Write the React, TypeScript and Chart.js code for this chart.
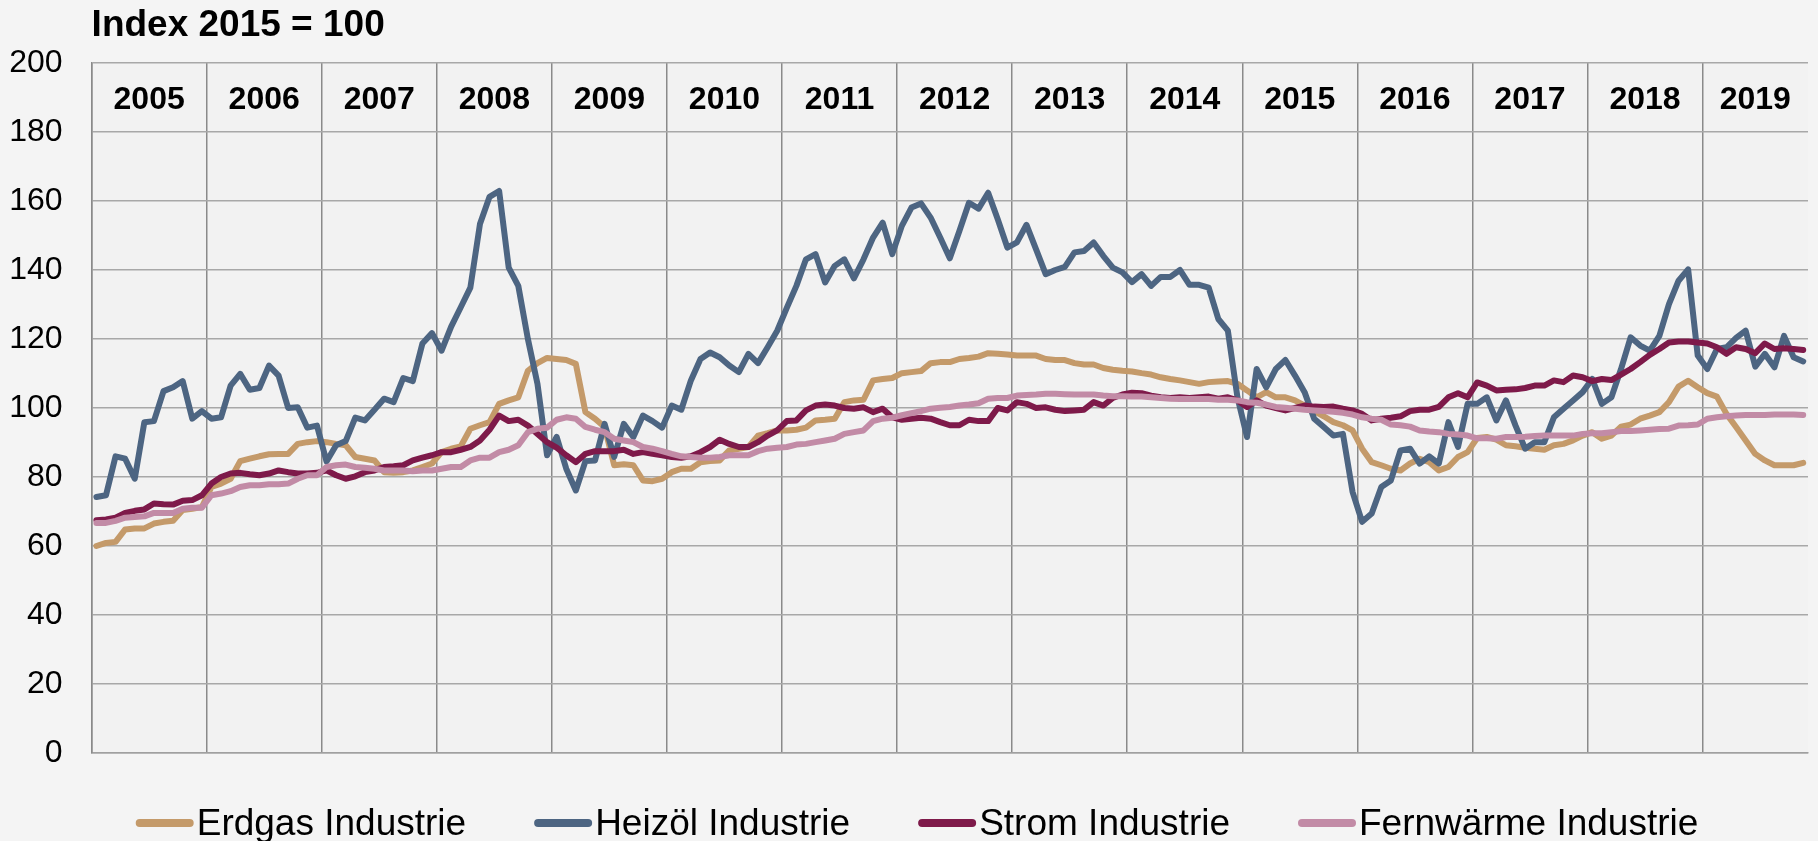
import React, { useEffect, useRef } from 'react';
import { Chart, registerables } from 'chart.js';

Chart.register(...registerables);

const FONT = '"Liberation Sans", Arial, Helvetica, sans-serif';

const titleText = 'Index 2015 = 100';
const years = ['2005', '2006', '2007', '2008', '2009', '2010', '2011', '2012', '2013', '2014', '2015', '2016', '2017', '2018', '2019'];
const monthsInLastYear = 11;
const yMin = 0;
const yMax = 200;
const yStep = 20;

const erdgas = [
  60.0, 60.9, 61.2, 64.8, 65.1, 65.1, 66.5, 67.0, 67.3, 70.4, 70.8, 71.3,
  77.1, 78.1, 79.5, 84.6, 85.3, 86.0, 86.6, 86.7, 86.7, 89.6, 90.1, 90.4,
  90.1, 89.6, 89.2, 85.8, 85.3, 84.8, 81.4, 81.2, 81.4, 81.9, 82.9, 83.9,
  87.2, 88.2, 88.9, 94.0, 95.0, 95.9, 101.2, 102.2, 103.1, 110.8, 113.0, 114.5,
  114.2, 113.9, 112.8, 98.8, 96.9, 94.5, 83.4, 83.7, 83.4, 79.0, 78.8, 79.5,
  81.4, 82.4, 82.4, 84.3, 84.6, 84.8, 87.7, 88.2, 88.7, 92.0, 92.7, 93.5,
  93.5, 93.7, 94.3, 96.4, 96.6, 96.9, 101.7, 102.2, 102.4, 108.0, 108.4, 108.7,
  110.1, 110.4, 110.7, 113.0, 113.3, 113.3, 114.2, 114.5, 114.9, 115.9, 115.7, 115.5,
  115.2, 115.2, 115.2, 114.2, 113.9, 113.9, 113.0, 112.6, 112.6, 111.6, 111.1, 110.8,
  110.6, 110.1, 109.7, 108.9, 108.4, 108.0, 107.5, 107.0, 107.5, 107.7, 107.8, 107.0,
  105.1, 103.1, 104.6, 103.1, 103.1, 102.2, 100.7, 99.1, 97.6, 95.9, 95.0, 93.5,
  88.2, 84.3, 83.4, 82.4, 81.9, 83.9, 85.3, 84.3, 81.9, 82.9, 85.8, 87.2,
  91.3, 91.6, 90.8, 89.2, 88.9, 88.5, 88.2, 87.9, 89.2, 89.6, 90.6, 92.0,
  93.0, 91.1, 92.0, 94.6, 95.2, 96.9, 97.8, 98.8, 101.7, 106.2, 107.9, 106.0,
  104.3, 103.3, 98.3, 94.5, 90.6, 86.7, 84.8, 83.4, 83.4, 83.4, 84.1,
];

const heizoel = [
  74.2, 74.7, 86.0, 85.3, 79.5, 95.9, 96.2, 104.9, 106.0, 107.8, 96.9, 99.1,
  96.9, 97.3, 106.5, 109.9, 105.3, 105.8, 112.3, 109.4, 100.0, 100.2, 94.3, 94.9,
  84.5, 89.2, 90.4, 97.2, 96.4, 99.5, 102.7, 101.7, 108.7, 107.8, 118.7, 121.7,
  116.6, 123.6, 129.2, 134.9, 153.3, 161.2, 162.9, 140.7, 135.4, 120.0, 107.0, 86.3,
  91.6, 82.4, 76.1, 84.6, 84.8, 95.4, 85.8, 95.4, 91.6, 97.8, 96.2, 94.3,
  100.7, 99.5, 108.0, 114.2, 116.1, 114.7, 112.3, 110.4, 115.7, 113.0, 117.6, 122.4,
  129.0, 135.4, 143.1, 144.6, 136.4, 141.2, 143.1, 137.6, 143.1, 149.4, 153.7, 144.6,
  152.8, 158.1, 159.3, 155.2, 149.4, 143.4, 151.3, 159.5, 157.8, 162.4, 154.7, 146.5,
  148.0, 153.1, 146.0, 138.8, 140.0, 140.9, 145.1, 145.5, 148.0, 144.1, 140.7, 139.3,
  136.5, 138.8, 135.4, 138.0, 138.0, 140.0, 135.7, 135.7, 134.9, 125.8, 122.4, 103.1,
  91.6, 111.3, 106.0, 111.3, 113.9, 109.4, 104.6, 96.9, 94.5, 92.0, 92.5, 75.7,
  67.0, 69.4, 77.1, 79.0, 87.7, 88.2, 83.9, 86.0, 83.9, 95.9, 88.7, 101.2,
  101.2, 103.1, 96.4, 102.2, 94.9, 88.2, 90.1, 90.1, 97.3, 99.8, 102.2, 104.6,
  108.4, 101.2, 103.1, 111.3, 120.5, 118.1, 116.6, 120.9, 130.1, 136.9, 140.2, 115.2,
  111.3, 117.1, 117.6, 120.3, 122.4, 112.0, 115.7, 111.8, 120.9, 114.7, 113.5,
];

const strom = [
  67.5, 67.7, 68.2, 69.6, 70.2, 70.6, 72.3, 72.1, 72.0, 73.1, 73.3, 74.7,
  78.1, 80.0, 81.0, 81.2, 80.8, 80.5, 81.0, 81.9, 81.4, 81.0, 81.0, 81.2,
  81.9, 80.5, 79.5, 80.2, 81.4, 81.9, 82.9, 83.1, 83.4, 84.8, 85.6, 86.3,
  87.2, 87.2, 87.9, 88.7, 90.6, 93.7, 97.8, 96.2, 96.6, 94.9, 92.5, 90.1,
  88.5, 86.3, 84.3, 86.7, 87.5, 87.5, 87.5, 87.9, 86.7, 87.2, 86.7, 86.3,
  85.8, 85.6, 86.0, 87.2, 88.7, 90.8, 89.6, 88.7, 88.7, 90.1, 92.0, 93.5,
  96.2, 96.4, 99.3, 100.7, 101.0, 100.7, 100.0, 99.8, 100.2, 98.8, 99.8, 97.3,
  96.6, 96.9, 97.2, 96.9, 95.9, 95.0, 95.0, 96.6, 96.2, 96.2, 100.0, 99.3,
  101.7, 101.2, 100.0, 100.2, 99.5, 99.1, 99.3, 99.5, 101.7, 100.7, 102.9, 103.9,
  104.4, 104.3, 103.6, 103.1, 102.9, 103.1, 102.9, 103.1, 103.3, 102.7, 103.1, 102.2,
  100.3, 102.2, 100.7, 100.0, 99.3, 100.0, 100.7, 100.4, 100.3, 100.4, 99.8, 99.3,
  98.3, 96.4, 96.9, 97.2, 97.6, 99.1, 99.5, 99.5, 100.3, 103.1, 104.3, 103.1,
  107.4, 106.5, 105.1, 105.3, 105.4, 105.8, 106.5, 106.5, 108.0, 107.5, 109.4, 108.9,
  107.8, 108.4, 108.1, 109.7, 111.3, 113.3, 115.4, 117.1, 119.0, 119.3, 119.3, 119.0,
  118.7, 117.6, 115.7, 117.6, 117.1, 115.9, 118.7, 117.1, 117.3, 117.1, 116.8,
];

const fernwaerme = [
  66.7, 66.7, 67.3, 68.2, 68.4, 68.6, 69.6, 69.6, 69.6, 70.8, 71.1, 71.1,
  74.7, 75.2, 75.9, 77.1, 77.6, 77.6, 77.9, 77.9, 78.1, 79.5, 80.5, 80.5,
  82.9, 83.4, 83.6, 82.9, 82.7, 82.4, 81.9, 81.9, 81.9, 81.7, 81.9, 81.9,
  82.4, 82.9, 82.9, 84.8, 85.6, 85.6, 87.2, 87.9, 89.2, 93.0, 94.0, 94.3,
  96.6, 97.3, 96.9, 94.5, 93.7, 93.0, 91.1, 90.6, 90.1, 88.7, 88.2, 87.5,
  86.7, 86.0, 85.8, 85.6, 85.6, 85.8, 86.3, 86.3, 86.3, 87.5, 88.2, 88.5,
  88.7, 89.4, 89.6, 90.1, 90.6, 91.1, 92.5, 93.0, 93.5, 96.2, 96.9, 97.2,
  97.9, 98.5, 99.1, 99.8, 100.1, 100.3, 100.7, 101.0, 101.4, 102.7, 102.9, 102.9,
  103.6, 103.8, 103.9, 104.1, 104.1, 104.0, 103.9, 103.9, 103.9, 103.6, 103.4, 103.4,
  103.3, 103.3, 103.1, 102.9, 102.7, 102.6, 102.6, 102.6, 102.6, 102.4, 102.4, 102.2,
  101.7, 101.5, 101.0, 100.3, 100.1, 99.8, 99.5, 99.3, 99.1, 98.9, 98.6, 98.1,
  97.3, 96.9, 96.6, 95.2, 95.0, 94.6, 93.5, 93.2, 93.0, 92.5, 92.3, 92.0,
  91.2, 91.2, 91.1, 91.6, 91.6, 91.7, 91.9, 92.0, 92.0, 92.0, 92.0, 92.5,
  92.7, 92.7, 93.0, 93.3, 93.3, 93.5, 93.7, 93.9, 94.0, 94.9, 95.0, 95.2,
  96.9, 97.3, 97.6, 97.8, 98.0, 98.0, 98.0, 98.1, 98.1, 98.1, 98.0,
];

const seriesNames = ['Erdgas Industrie', 'Heizöl Industrie', 'Strom Industrie', 'Fernwärme Industrie'];

const monthLabels: string[] = years.flatMap((yr, k) => {
  const count = k === years.length - 1 ? monthsInLastYear : 12;
  return Array.from({ length: count }, (_, m) => `${yr}-${String(m + 1).padStart(2, '0')}`);
});

const decorPlugin = {
  id: 'decor',
  beforeDraw(chart: any) {
    const { ctx, chartArea: a, width, height } = chart;
    ctx.save();
    ctx.fillStyle = '#F4F4F4';
    ctx.fillRect(0, 0, width, height);
    ctx.fillStyle = '#F2F2F2';
    ctx.fillRect(a.left, a.top, a.right - a.left, a.bottom - a.top);
    ctx.restore();
  },
  afterDraw(chart: any) {
    const { ctx, chartArea: a, scales, width } = chart;
    const x = scales.x;
    const y = scales.y;
    ctx.save();
    // Title
    ctx.fillStyle = '#000';
    ctx.font = `bold 37px ${FONT}`;
    ctx.textAlign = 'left';
    ctx.textBaseline = 'alphabetic';
    ctx.fillText(titleText, a.left, a.top - 27);

    // Year labels inside plot
    const n = monthLabels.length;
    const half = (x.getPixelForValue(1) - x.getPixelForValue(0)) / 2;
    ctx.font = `bold 32px ${FONT}`;
    ctx.textAlign = 'center';
    ctx.textBaseline = 'middle';
    const yy = y.getPixelForValue(189.2);
    years.forEach((yr, k) => {
      const first = k * 12;
      const last = Math.min(k * 12 + 11, n - 1);
      const l = x.getPixelForValue(first) - half;
      const r = x.getPixelForValue(last) + half;
      ctx.fillText(yr, (l + r) / 2, yy);
    });

    // Legend
    ctx.font = `37px ${FONT}`;
    ctx.textAlign = 'left';
    ctx.textBaseline = 'alphabetic';
    const lineLen = 58;
    const lineW = 8;
    const textGap = 3;
    const itemGap = 68;
    const ds = chart.data.datasets;
    const widths = ds.map((d: any) => ctx.measureText(d.label).width);
    const total = widths.reduce((s: number, w: number) => s + lineLen + textGap + w, 0) + itemGap * (ds.length - 1);
    let cx = width / 2 + 8 - total / 2;
    const ly = a.bottom + 70;
    ds.forEach((d: any, i: number) => {
      ctx.strokeStyle = d.borderColor;
      ctx.lineWidth = lineW;
      ctx.lineCap = 'round';
      ctx.beginPath();
      ctx.moveTo(cx + lineW / 2, ly);
      ctx.lineTo(cx + lineLen - lineW / 2, ly);
      ctx.stroke();
      ctx.fillStyle = '#000';
      ctx.fillText(d.label, cx + lineLen + textGap, ly + 12);
      cx += lineLen + textGap + widths[i] + itemGap;
    });
    ctx.restore();
  },
};

export default function App() {
  const canvasRef = useRef<HTMLCanvasElement | null>(null);

  useEffect(() => {
    const canvas = canvasRef.current;
    if (!canvas) return;
    Chart.defaults.font.family = FONT;
    const common = {
      borderWidth: 6,
      pointRadius: 0,
      pointHoverRadius: 0,
      tension: 0,
      fill: false,
      borderCapStyle: 'round',
      borderJoinStyle: 'round',
    };
    const chart = new Chart(canvas, {
      type: 'line',
      data: {
        labels: monthLabels,
        datasets: [
          { ...common, label: seriesNames[0], data: erdgas, borderColor: '#C49A6A', backgroundColor: '#C49A6A', order: 4 },
          { ...common, label: seriesNames[1], data: heizoel, borderColor: '#4D6582', backgroundColor: '#4D6582', order: 3 },
          { ...common, label: seriesNames[2], data: strom, borderColor: '#7E1A4A', backgroundColor: '#7E1A4A', order: 2 },
          { ...common, label: seriesNames[3], data: fernwaerme, borderColor: '#C28BA6', backgroundColor: '#C28BA6', order: 1 },
        ],
      } as any,
      options: {
        animation: false,
        responsive: false,
        maintainAspectRatio: false,
        layout: { padding: { left: 0, right: 10, top: 63, bottom: 88 } },
        plugins: {
          legend: { display: false },
          tooltip: { enabled: false },
          title: { display: false },
        },
        scales: {
          x: {
            type: 'category',
            offset: true,
            ticks: { display: false, autoSkip: false },
            grid: {
              offset: true,
              drawTicks: false,
              color: (c: any) => (c.index % 12 === 0 ? '#8A8A8A' : 'rgba(0,0,0,0)'),
              lineWidth: 1.5,
            },
            border: { display: true, color: '#A0A0A0', width: 1.5 },
            afterFit: (s: any) => {
              s.height = 0;
            },
          },
          y: {
            min: yMin,
            max: yMax,
            ticks: { stepSize: yStep, color: '#000', font: { size: 32, family: FONT }, padding: 29 },
            grid: { color: '#A8A8A8', lineWidth: 1.5, drawTicks: false },
            border: { display: true, color: '#8A8A8A', width: 1.5 },
            afterFit: (s: any) => {
              s.width = 91.6;
            },
          },
        },
      } as any,
      plugins: [decorPlugin],
    });
    return () => chart.destroy();
  }, []);

  return (
    <div style={{ position: 'fixed', left: 0, top: 0, width: 1818, height: 841, background: '#F4F4F4' }}>
      <canvas ref={canvasRef} width={1818} height={841} style={{ width: 1818, height: 841, display: 'block' }} />
    </div>
  );
}
